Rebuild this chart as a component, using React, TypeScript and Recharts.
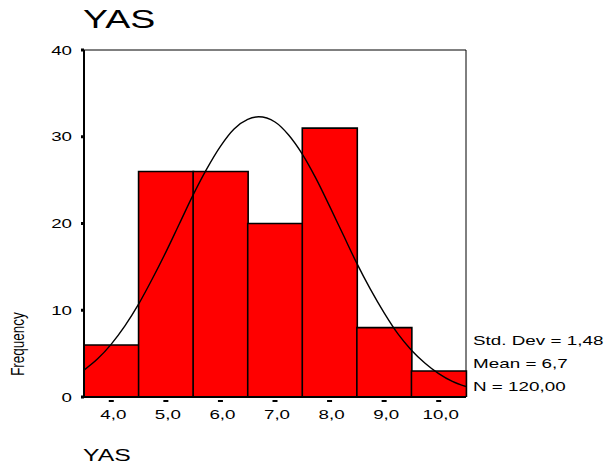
import { ComposedChart, Bar, Line, XAxis, YAxis, ReferenceArea } from "recharts";

// histogram bins (SPSS style, decimal comma)
const categories = ["4,0", "5,0", "6,0", "7,0", "8,0", "9,0", "10,0"];
const frequencies = [6, 26, 26, 20, 31, 8, 3];
const yTicks = [0, 10, 20, 30, 40];

// normal curve
const curveX = [3.5, 3.75, 4, 4.25, 4.5, 4.75, 5, 5.25, 5.5, 5.75, 6, 6.25, 6.5, 6.7, 7, 7.25, 7.5, 7.75, 8, 8.25, 8.5, 8.75, 9, 9.25, 9.5, 9.75, 10, 10.25, 10.5];
const curveY = [3.1, 4.4, 6.1, 8.2, 10.7, 13.6, 16.7, 20.0, 23.3, 26.3, 28.9, 30.9, 32.0, 32.3, 31.7, 30.2, 28.0, 25.2, 22.0, 18.7, 15.4, 12.4, 9.7, 7.3, 5.4, 3.9, 2.7, 1.8, 1.2];

const statLines = ["Std. Dev = 1,48", "Mean = 6,7", "N = 120,00"];

const FONT = "Arial, 'Liberation Sans', Helvetica, sans-serif";

const barData = categories.map((label, i) => ({ label, freq: frequencies[i] }));
const curveData = curveX.map((x, i) => ({ x, y: curveY[i] }));

const YTick = (props: any) => {
  const { x, y, payload } = props;
  return (
    <g transform={`translate(${x},${y + 4.5}) scale(1.5,1)`}>
      <text textAnchor="end" fontSize={12.5} fill="#000" fontFamily={FONT}>
        {payload.value}
      </text>
    </g>
  );
};

const XTick = (props: any) => {
  const { x, y, payload } = props;
  return (
    <g>
      <rect x={x - 2.5} y={y + 3} width={5} height={2} fill="#000" />
      <g transform={`translate(${x + 2},${y + 22}) scale(1.5,1)`}>
        <text textAnchor="middle" fontSize={12.5} fill="#000" fontFamily={FONT}>
          {payload.value}
        </text>
      </g>
    </g>
  );
};

export default function App() {
  return (
    <div style={{ position: "absolute", left: 0, top: 0, width: 615, height: 470, background: "#fff" }}>
      <ComposedChart
        width={615}
        height={470}
        data={barData}
        margin={{ top: 50, right: 149, bottom: 43, left: 24 }}
        barCategoryGap={0}
        barGap={0}
      >
        <XAxis
          xAxisId="cat"
          dataKey="label"
          type="category"
          height={30}
          interval={0}
          tickLine={false}
          tickSize={0}
          tickMargin={0}
          axisLine={{ stroke: "#000", strokeWidth: 2 }}
          tick={<XTick />}
        />
        <XAxis xAxisId="num" dataKey="x" type="number" domain={[3.5, 10.5]} allowDataOverflow hide />
        <YAxis
          type="number"
          domain={[0, 40]}
          ticks={yTicks}
          width={60}
          tickSize={3}
          tickMargin={9}
          tickLine={{ stroke: "#000", strokeWidth: 3 }}
          axisLine={{ stroke: "#000", strokeWidth: 2 }}
          tick={<YTick />}
          allowDataOverflow
        />
        <Bar xAxisId="cat" dataKey="freq" fill="#ff0000" stroke="#000" strokeWidth={1.6} isAnimationActive={false} />
        <Line
          xAxisId="num"
          data={curveData}
          dataKey="y"
          type="monotone"
          stroke="#000"
          strokeWidth={1.4}
          dot={false}
          activeDot={false}
          isAnimationActive={false}
        />
        <ReferenceArea
          xAxisId="num"
          x1={3.5}
          x2={10.5}
          y1={0}
          y2={40}
          fill="none"
          stroke="#000"
          strokeWidth={1}
          ifOverflow="visible"
        />
      </ComposedChart>
      <svg width={615} height={470} style={{ position: "absolute", left: 0, top: 0, pointerEvents: "none" }}>
        <g transform="translate(83,28) scale(1.5,1)">
          <text fontSize={25} fill="#000" fontFamily={FONT}>YAS</text>
        </g>
        <g transform="translate(83,461) scale(1.5,1)">
          <text fontSize={16.5} fill="#000" fontFamily={FONT}>YAS</text>
        </g>
        <g transform="translate(24,344) scale(1.3,1) rotate(-90)">
          <text textAnchor="middle" fontSize={13.5} fill="#000" fontFamily={FONT}>Frequency</text>
        </g>
        {statLines.map((s, i) => (
          <g key={s} transform={`translate(473,${345 + i * 23}) scale(1.45,1)`}>
            <text fontSize={13} fill="#000" fontFamily={FONT}>{s}</text>
          </g>
        ))}
      </svg>
    </div>
  );
}
